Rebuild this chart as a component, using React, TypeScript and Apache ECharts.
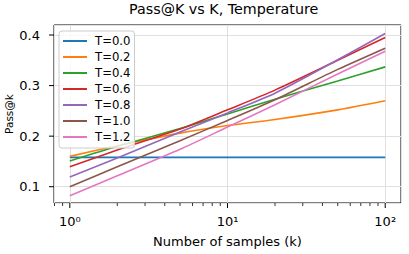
import React, { useEffect, useRef } from "react";
import * as echarts from "echarts";

const kValues = [1, 2, 5, 10, 20, 50, 100];
const seriesNames = ["T=0.0", "T=0.2", "T=0.4", "T=0.6", "T=0.8", "T=1.0", "T=1.2"];
const t00 = [0.158, 0.158, 0.158, 0.158, 0.158, 0.158, 0.158];
const t02 = [0.160, 0.181, 0.206, 0.221, 0.233, 0.252, 0.270];
const t04 = [0.151, 0.180, 0.215, 0.244, 0.273, 0.309, 0.337];
const t06 = [0.1395, 0.1725, 0.214, 0.252, 0.291, 0.350, 0.395];
const t08 = [0.119, 0.157, 0.208, 0.246, 0.285, 0.351, 0.403];
const t10 = [0.100, 0.1395, 0.191, 0.231, 0.272, 0.332, 0.374];
const t12 = [0.082, 0.1215, 0.174, 0.218, 0.262, 0.323, 0.368];
const seriesValues = [t00, t02, t04, t06, t08, t10, t12];
const colors = ["#1f77b4", "#ff7f0e", "#2ca02c", "#d62728", "#9467bd", "#8c564b", "#e377c2"];

const xMin = 0.794;
const xMax = 125.9;
const yMin = 0.0678;
const yMax = 0.4198;
const xMajorTicks = [1, 10, 100];
const xTickLabels = ["10⁰", "10¹", "10²"];
const xMinorTicks = [0.8, 0.9, 2, 3, 4, 5, 6, 7, 8, 9, 20, 30, 40, 50, 60, 70, 80, 90];
const yMajorTicks = [0.1, 0.2, 0.3, 0.4];

const FONT = "DejaVu Sans";

export default function App() {
  const ref = useRef<HTMLDivElement>(null);
  useEffect(() => {
    if (!ref.current) return;
    const chart = echarts.init(ref.current, null, { renderer: "svg" });
    const option: any = {
      animation: false,
      title: {
        text: "Pass@K vs K, Temperature",
        left: 129,
        top: 2,
        padding: 0,
        textStyle: { fontFamily: FONT, fontSize: 14.3, fontWeight: "normal", color: "#000" },
      },
      grid: {
        left: 54,
        right: 8,
        top: 25,
        bottom: 51,
        show: true,
        borderColor: "#000",
        borderWidth: 1,
        backgroundColor: "transparent",
        containLabel: false,
        outerBoundsMode: "none",
      },
      legend: {
        orient: "vertical",
        left: 59,
        top: 31,
        padding: [4, 4, 5, 4],
        itemGap: 4,
        itemWidth: 24,
        itemHeight: 2,
        icon: "rect",
        backgroundColor: "rgba(255,255,255,0.8)",
        borderColor: "#cccccc",
        borderWidth: 1,
        borderRadius: 3,
        textStyle: {
          fontFamily: FONT,
          fontSize: 11.7,
          lineHeight: 12,
          color: "#000",
          padding: [0, 0, 0, 3],
        },
        data: seriesNames,
      },
      xAxis: {
        type: "log",
        logBase: 10,
        min: xMin,
        max: xMax,
        name: "Number of samples (k)",
        nameLocation: "middle",
        nameGap: 32,
        nameMoveOverlap: false,
        nameTextStyle: { fontFamily: FONT, fontSize: 13, color: "#000" },
        axisLine: { show: false },
        axisTick: { show: false },
        axisLabel: {
          margin: 12,
          fontFamily: FONT,
          fontSize: 13,
          color: "#000",
          formatter: (v: number) => {
            for (let i = 0; i < xMajorTicks.length; i++) {
              if (Math.abs(v - xMajorTicks[i]) / xMajorTicks[i] < 1e-6) return xTickLabels[i];
            }
            return "";
          },
        },
        splitLine: { show: true, lineStyle: { color: "#e0e0e0", width: 1 } },
        minorTick: { show: false },
      },
      yAxis: {
        type: "value",
        min: yMin,
        max: yMax,
        splitNumber: 4,
        name: "Pass@k",
        nameLocation: "middle",
        nameGap: 40,
        nameRotate: 90,
        nameMoveOverlap: false,
        nameTextStyle: { fontFamily: FONT, fontSize: 10.5, color: "#000" },
        axisLine: { show: false },
        axisTick: { show: false },
        axisLabel: {
          margin: 14,
          fontFamily: FONT,
          fontSize: 13,
          color: "#000",
          formatter: (v: number) => {
            for (const t of yMajorTicks) {
              if (Math.abs(v - t) < 1e-6) return t.toFixed(1);
            }
            return "";
          },
        },
        splitLine: { show: true, lineStyle: { color: "#e0e0e0", width: 1 } },
      },
      series: seriesNames.map((name, i) => ({
        name,
        type: "line",
        symbol: "none",
        smooth: 0.25,
        lineStyle: { width: 1.6, color: colors[i] },
        itemStyle: { color: colors[i] },
        data: kValues.map((k, j) => [k, seriesValues[i][j]]),
        z: 2,
      })),
    };
    chart.setOption(option);

    const bottomY = chart.convertToPixel({ yAxisIndex: 0 }, yMin) as number;
    const leftX = chart.convertToPixel({ xAxisIndex: 0 }, xMin) as number;
    const graphics: any[] = [];
    xMajorTicks.forEach((v) => {
      const px = chart.convertToPixel({ xAxisIndex: 0 }, v) as number;
      graphics.push({
        type: "line",
        shape: { x1: px, y1: bottomY, x2: px, y2: bottomY + 5 },
        style: { stroke: "#000", lineWidth: 1 },
        silent: true,
      });
    });
    xMinorTicks.forEach((v) => {
      const px = chart.convertToPixel({ xAxisIndex: 0 }, v) as number;
      graphics.push({
        type: "line",
        shape: { x1: px, y1: bottomY, x2: px, y2: bottomY + 3 },
        style: { stroke: "#000", lineWidth: 0.8 },
        silent: true,
      });
    });
    yMajorTicks.forEach((v) => {
      const py = chart.convertToPixel({ yAxisIndex: 0 }, v) as number;
      graphics.push({
        type: "line",
        shape: { x1: leftX - 5, y1: py, x2: leftX, y2: py },
        style: { stroke: "#000", lineWidth: 1 },
        silent: true,
      });
    });
    chart.setOption({ graphic: graphics });

    return () => chart.dispose();
  }, []);
  return (
    <div
      ref={ref}
      style={{ position: "fixed", left: 0, top: 0, width: 409, height: 254, background: "#fff" }}
    />
  );
}
